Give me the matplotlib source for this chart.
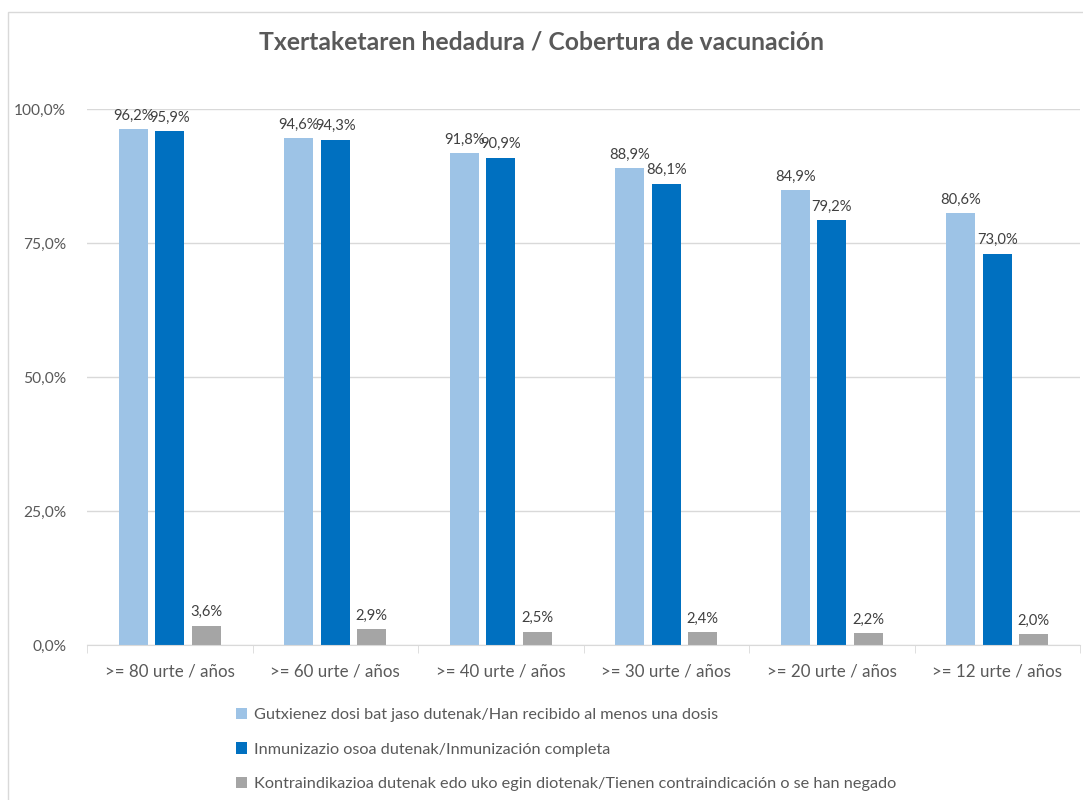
import matplotlib
matplotlib.use("Agg")
import matplotlib.pyplot as plt
from matplotlib.patches import Rectangle
import numpy as np

categories = [">= 80 urte / años", ">= 60 urte / años", ">= 40 urte / años",
              ">= 30 urte / años", ">= 20 urte / años", ">= 12 urte / años"]
dosis_una = [96.2, 94.6, 91.8, 88.9, 84.9, 80.6]
completa = [95.9, 94.3, 90.9, 86.1, 79.2, 73.0]
contra = [3.6, 2.9, 2.5, 2.4, 2.2, 2.0]
series_names = ["Gutxienez dosi bat jaso dutenak/Han recibido al menos una dosis",
                "Inmunizazio osoa dutenak/Inmunización completa",
                "Kontraindikazioa dutenak edo uko egin diotenak/Tienen contraindicación o se han negado"]
colors = ["#9DC3E6", "#0070C0", "#A5A5A5"]
yticks = [0, 25, 50, 75, 100]
title = "Txertaketaren hedadura / Cobertura de vacunación"

plt.rcParams['font.family'] = ['Lato', 'DejaVu Sans']
txt = "#595959"

fig = plt.figure(figsize=(10.83, 8.0), dpi=100)
# chart frame
fig.patches.append(Rectangle((8/1083, -0.1), 1.2, 1 - 12/800 + 0.1, transform=fig.transFigure,
                             fill=False, edgecolor="#D9D9D9", lw=1.0))

ax = fig.add_axes([87/1083, 1 - 645/800, (1080 - 87)/1083, (645 - 109)/800])
x = np.arange(len(categories))
w = 0.175
step = 0.22
all_series = [dosis_una, completa, contra]
for i, (vals, c, name) in enumerate(zip(all_series, colors, series_names)):
    pos = x + (i - 1) * step
    ax.bar(pos, vals, width=w, color=c, label=name, zorder=3)
    for p, v in zip(pos, vals):
        ax.text(p, v + 1.2, f"{v:.1f}".replace(".", ",") + "%", ha="center", va="bottom",
                fontsize=10.6, color="#404040", clip_on=False)

ax.set_xlim(-0.5, len(categories) - 0.5)
ax.set_ylim(0, 100)
ax.set_yticks(yticks)
ax.set_yticklabels([f"{t:.1f}".replace(".", ",") + "%" for t in yticks], fontsize=11.2, color=txt)
ax.set_xticks(x)
ax.set_xticklabels(categories, fontsize=12.2, color=txt)
ax.set_xticks(np.arange(-0.5, len(categories), 1.0), minor=True)
ax.tick_params(axis="x", which="major", length=0, pad=13)
ax.tick_params(axis="x", which="minor", length=6, color="#D9D9D9", direction="out")
ax.tick_params(axis="y", length=0, pad=15)
ax.grid(axis="y", color="#D9D9D9", lw=1, zorder=0)
for s in ["top", "right", "left"]:
    ax.spines[s].set_visible(False)
ax.spines["bottom"].set_color("#D9D9D9")
ax.spines["bottom"].set_zorder(4)

fig.text(0.5, 1 - 42/800, title, ha="center", va="center", fontsize=17.8, fontweight="bold", color=txt)

handles, labels = ax.get_legend_handles_labels()
leg = fig.legend(handles, labels, loc="upper left", bbox_to_anchor=(229/1083, 1 - 701/800),
                 frameon=False, fontsize=11.7, handlelength=0.7, handleheight=0.7,
                 handletextpad=0.45, labelspacing=1.25, borderaxespad=0)
for t in leg.get_texts():
    t.set_color(txt)

fig.savefig("out.png", dpi=100, facecolor="white")
